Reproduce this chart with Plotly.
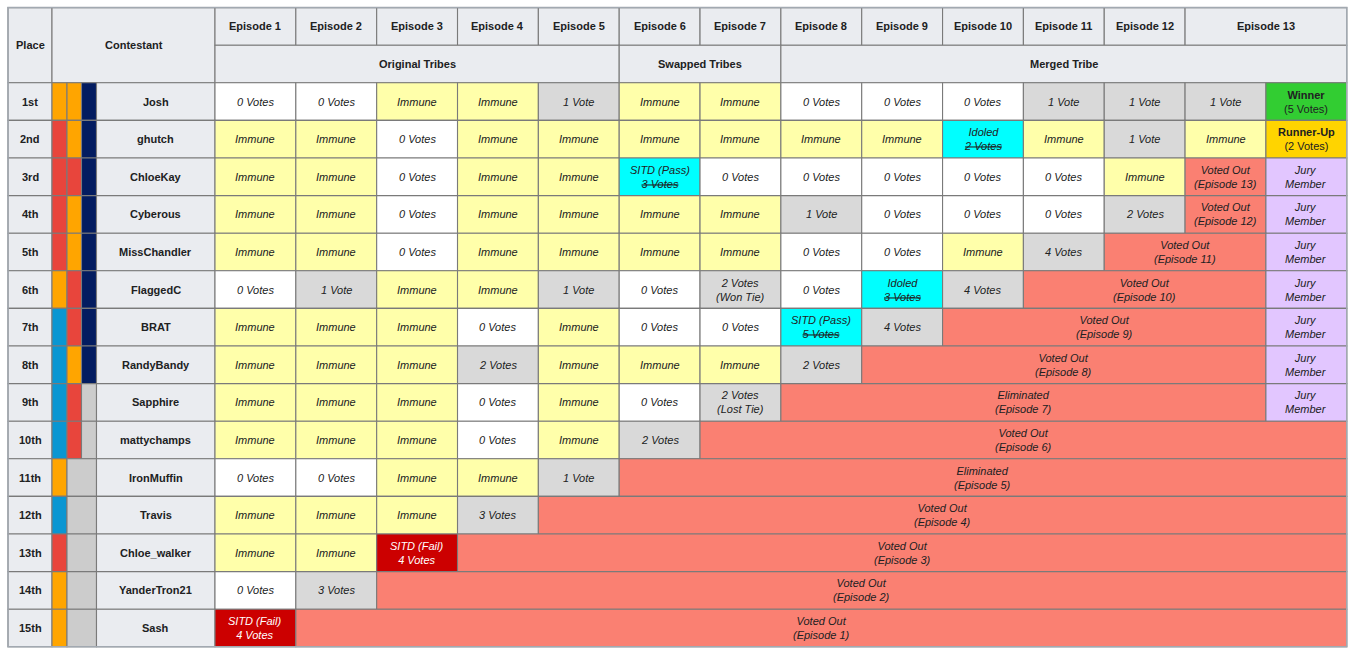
import plotly.graph_objects as go

# ---------------- data ----------------
places = ["1st", "2nd", "3rd", "4th", "5th", "6th", "7th", "8th", "9th", "10th",
          "11th", "12th", "13th", "14th", "15th"]
contestants = ["Josh", "ghutch", "ChloeKay", "Cyberous", "MissChandler", "FlaggedC",
               "BRAT", "RandyBandy", "Sapphire", "mattychamps", "IronMuffin", "Travis",
               "Chloe_walker", "YanderTron21", "Sash"]
original_tribe = ["orange", "red", "red", "red", "red", "orange", "blue", "blue", "blue",
                  "blue", "orange", "blue", "red", "orange", "orange"]
swapped_tribe = ["orange", "orange", "red", "orange", "orange", "red", "red", "orange", "red",
                 "red", None, None, None, None, None]
merged_tribe = ["navy", "navy", "navy", "navy", "navy", "navy", "navy", "navy", None, None,
                None, None, None, None, None]
episodes = ["Episode 1", "Episode 2", "Episode 3", "Episode 4", "Episode 5", "Episode 6",
            "Episode 7", "Episode 8", "Episode 9", "Episode 10", "Episode 11", "Episode 12",
            "Episode 13"]
episode_cols = [1, 1, 1, 1, 1, 1, 1, 1, 1, 1, 1, 1, 2]
phases = ["Original Tribes", "Swapped Tribes", "Merged Tribe"]
phase_cols = [5, 2, 7]

vote_rows = [
    ["0 Votes", "0 Votes", "Immune", "Immune", "1 Vote", "Immune", "Immune", "0 Votes", "0 Votes",
     "0 Votes", "1 Vote", "1 Vote", "1 Vote", "Winner<br>(5 Votes)"],
    ["Immune", "Immune", "0 Votes", "Immune", "Immune", "Immune", "Immune", "Immune", "Immune",
     "Idoled<br><s>2 Votes</s>", "Immune", "1 Vote", "Immune", "Runner-Up<br>(2 Votes)"],
    ["Immune", "Immune", "0 Votes", "Immune", "Immune", "SITD (Pass)<br><s>3 Votes</s>", "0 Votes",
     "0 Votes", "0 Votes", "0 Votes", "0 Votes", "Immune", "Voted Out<br>(Episode 13)", "Jury<br>Member"],
    ["Immune", "Immune", "0 Votes", "Immune", "Immune", "Immune", "Immune", "1 Vote", "0 Votes",
     "0 Votes", "0 Votes", "2 Votes", "Voted Out<br>(Episode 12)", "Jury<br>Member"],
    ["Immune", "Immune", "0 Votes", "Immune", "Immune", "Immune", "Immune", "0 Votes", "0 Votes",
     "Immune", "4 Votes", "Voted Out<br>(Episode 11)", "Jury<br>Member"],
    ["0 Votes", "1 Vote", "Immune", "Immune", "1 Vote", "0 Votes", "2 Votes<br>(Won Tie)", "0 Votes",
     "Idoled<br><s>3 Votes</s>", "4 Votes", "Voted Out<br>(Episode 10)", "Jury<br>Member"],
    ["Immune", "Immune", "Immune", "0 Votes", "Immune", "0 Votes", "0 Votes",
     "SITD (Pass)<br><s>5 Votes</s>", "4 Votes", "Voted Out<br>(Episode 9)", "Jury<br>Member"],
    ["Immune", "Immune", "Immune", "2 Votes", "Immune", "Immune", "Immune", "2 Votes",
     "Voted Out<br>(Episode 8)", "Jury<br>Member"],
    ["Immune", "Immune", "Immune", "0 Votes", "Immune", "0 Votes", "2 Votes<br>(Lost Tie)",
     "Eliminated<br>(Episode 7)", "Jury<br>Member"],
    ["Immune", "Immune", "Immune", "0 Votes", "Immune", "2 Votes", "Voted Out<br>(Episode 6)"],
    ["0 Votes", "0 Votes", "Immune", "Immune", "1 Vote", "Eliminated<br>(Episode 5)"],
    ["Immune", "Immune", "Immune", "3 Votes", "Voted Out<br>(Episode 4)"],
    ["Immune", "Immune", "SITD (Fail)<br>4 Votes", "Voted Out<br>(Episode 3)"],
    ["0 Votes", "3 Votes", "Voted Out<br>(Episode 2)"],
    ["SITD (Fail)<br>4 Votes", "Voted Out<br>(Episode 1)"],
]

# ---------------- styles / geometry ----------------
TRIBE_COLORS = {"orange": "#ffa500", "red": "#e8453c", "blue": "#0a96d2",
                "navy": "#031c60", None: "#cccccc"}
HEAD_BG = "#eaecf0"
LINE = "#7a7a7a"
TXT = "#202122"
FONT = "Liberation Sans, Arial, sans-serif"
N_VOTE_COLS = 14

X_LEFT = 8.0
PLACE_W = 44.0
STRIP_W = [15.0, 14.5, 15.0]
NAME_W = 118.5
EP_W = 80.84
Y_TOP = 7.6
ROW_H = 37.6

strip_edges = [X_LEFT + PLACE_W]
for w in STRIP_W:
    strip_edges.append(strip_edges[-1] + w)
name_x0 = strip_edges[-1]
ep_x0 = name_x0 + NAME_W


def col_x(i):
    return ep_x0 + i * EP_W


def row_y(r):
    return Y_TOP + r * ROW_H


def style_of(label):
    if label.startswith("Winner"):
        return "#32cd32", TXT, "winner"
    if label.startswith("Runner-Up"):
        return "#ffd400", TXT, "winner"
    if label.startswith("Jury"):
        return "#e2c6ff", TXT, "it"
    if label.startswith("Voted Out") or label.startswith("Eliminated"):
        return "#fa8072", TXT, "it"
    if label.startswith("SITD (Fail)"):
        return "#cc0000", "#ffffff", "it"
    if label.startswith("SITD (Pass)") or label.startswith("Idoled"):
        return "#00ffff", TXT, "it"
    if label == "Immune":
        return "#ffffaa", TXT, "it"
    if label.startswith("0 "):
        return "#ffffff", TXT, "it"
    return "#d9d9d9", TXT, "it"


shapes = []
annotations = []


def cell(x0, x1, y0, y1, fill, text=None, color=TXT, mode="bold"):
    shapes.append(dict(type="rect", xref="x", yref="y", x0=x0, x1=x1, y0=y0, y1=y1,
                       fillcolor=fill, line=dict(color=LINE, width=1.1), layer="below"))
    if text is None:
        return
    if mode == "bold":
        t = "<b>" + text + "</b>"
    elif mode == "it":
        t = "<i>" + text + "</i>"
    else:  # winner / runner-up
        parts = text.split("<br>")
        t = "<b>" + parts[0] + "</b><br>" + parts[1]
    annotations.append(dict(x=(x0 + x1) / 2, y=(y0 + y1) / 2, xref="x", yref="y",
                            text=t, showarrow=False, xanchor="center", yanchor="middle",
                            align="center",
                            font=dict(family=FONT, size=11, color=color)))


# header
cell(X_LEFT, strip_edges[0], row_y(0), row_y(2), HEAD_BG, "Place")
cell(strip_edges[0], ep_x0, row_y(0), row_y(2), HEAD_BG, "Contestant")
c = 0
for ep, span in zip(episodes, episode_cols):
    cell(col_x(c), col_x(c + span), row_y(0), row_y(1), HEAD_BG, ep)
    c += span
c = 0
for ph, span in zip(phases, phase_cols):
    cell(col_x(c), col_x(c + span), row_y(1), row_y(2), HEAD_BG, ph)
    c += span

# body
for r in range(len(places)):
    y0, y1 = row_y(r + 2), row_y(r + 3)
    cell(X_LEFT, strip_edges[0], y0, y1, HEAD_BG, places[r])
    # tribe strips
    cell(strip_edges[0], strip_edges[1], y0, y1, TRIBE_COLORS[original_tribe[r]])
    if swapped_tribe[r] is None:
        cell(strip_edges[1], strip_edges[3], y0, y1, TRIBE_COLORS[None])
    else:
        cell(strip_edges[1], strip_edges[2], y0, y1, TRIBE_COLORS[swapped_tribe[r]])
        cell(strip_edges[2], strip_edges[3], y0, y1, TRIBE_COLORS[merged_tribe[r]])
    cell(name_x0, ep_x0, y0, y1, HEAD_BG, contestants[r])
    # votes
    labels = vote_rows[r]
    out_span = N_VOTE_COLS - (len(labels) - 1)
    c = 0
    for lab in labels:
        fill, fc, mode = style_of(lab)
        span = out_span if (lab.startswith("Voted Out") or lab.startswith("Eliminated")) else 1
        cell(col_x(c), col_x(c + span), y0, y1, fill, lab, fc, mode)
        c += span

# outer border
shapes.append(dict(type="rect", xref="x", yref="y", x0=X_LEFT, x1=col_x(N_VOTE_COLS),
                   y0=row_y(0), y1=row_y(len(places) + 2),
                   line=dict(color="#a2a9b1", width=1.5), fillcolor="rgba(0,0,0,0)", layer="above"))

fig = go.Figure(go.Scatter(x=[], y=[], mode="markers", showlegend=False, hoverinfo="skip"))
fig.update_layout(
    width=1352, height=656,
    margin=dict(l=0, r=0, t=0, b=0),
    paper_bgcolor="#ffffff", plot_bgcolor="#ffffff",
    xaxis=dict(range=[0, 1352], visible=False, fixedrange=True),
    yaxis=dict(range=[656, 0], visible=False, fixedrange=True),
    shapes=shapes, annotations=annotations, showlegend=False,
)
fig.write_html("out.html", config={"displayModeBar": False},
               post_script="document.body.style.margin='0px';document.body.style.overflow='hidden';")
